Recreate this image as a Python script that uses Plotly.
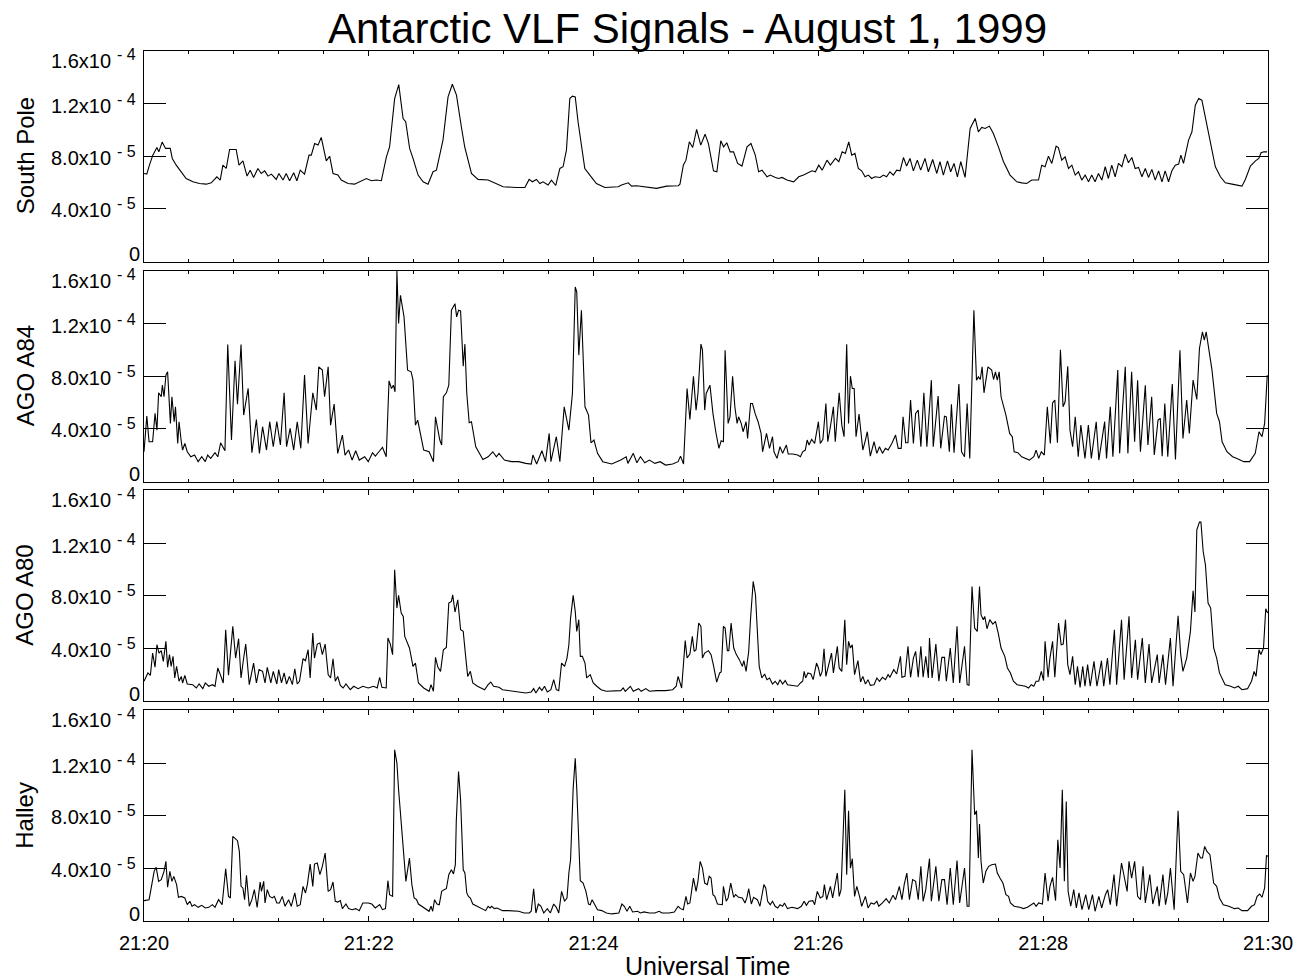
import plotly.graph_objects as go

# ---------------- data (values in units of 1e-5) ----------------
SCALE = 1e-5
x_tickvals = [0, 120, 240, 360, 480, 600]          # seconds after 21:20 UT
x_ticktext = ["21:20", "21:22", "21:24", "21:26", "21:28", "21:30"]
y_tickvals = [0, 4e-5, 8e-5, 1.2e-4, 1.6e-4]
y_mantissa = ["0", "4.0x10", "8.0x10", "1.2x10", "1.6x10"]
y_exponent = ["", "- 5", "- 5", "- 4", "- 4"]
panel_names = ["South Pole", "AGO A84", "AGO A80", "Halley"]

sp_t = [0,1.5,2.9,4.7,6.9,7.9,9.7,11.5,14.0,15.1,17.2,19.9,22.5,26.1,29.6,33.2,35.9,38.9,40.7,42.1,43.9,45.7,49.2,50.7,52.8,55.0,56.7,58.5,60.8,62.6,64.4,66.2,68.0,70.6,72.0,74.2,75.9,77.7,79.9,81.6,83.4,85.7,88.1,89.3,91.1,92.9,94.6,97.3,99.1,100.9,103.5,105.3,108.9,112.4,116.0,118.7,121.4,124.0,126.7,129.4,131.1,133.8,136.0,138.3,139.7,141.8,143.6,146.3,149.0,151.6,154.3,156.1,159.6,162.3,164.6,166.8,169.4,171.2,174.8,178.3,183.7,188.1,191.7,198.8,203.3,205.6,207.3,209.5,211.3,213.0,215.7,217.5,219.8,222.0,223.7,225.5,227.3,228.7,230.2,231.7,233.5,235.3,238.0,241.5,246.0,253.1,254.9,258.5,260.3,262.9,273.6,279.0,285.2,286.1,287.9,289.3,291.1,292.9,295.0,297.2,299.5,301.3,304.0,305.8,307.9,309.4,311.1,312.9,314.7,316.9,319.2,321.9,324.0,326.3,328.1,329.9,332.6,334.3,337.0,338.8,340.6,343.2,346.8,349.5,352.1,354.8,356.6,358.4,360.2,362.0,364.6,366.4,369.1,370.9,372.7,374.4,376.2,377.8,379.5,381.3,383.1,384.9,386.7,388.4,390.2,392.9,394.7,396.4,398.2,400.0,401.8,403.6,405.4,407.1,408.9,410.7,412.8,414.6,416.9,418.7,421.0,423.2,424.9,426.7,428.9,430.6,432.4,434.2,436.0,438.3,441.0,443.7,445.4,447.2,449.0,451.3,453.4,456.1,458.8,462.3,465.9,468.6,471.2,473.9,477.5,479.2,481.0,482.8,484.6,486.9,488.1,489.9,491.7,493.5,495.3,497.1,498.8,500.6,502.4,504.2,505.9,507.7,509.5,511.3,513.1,514.8,516.6,518.4,520.2,522.0,523.8,525.5,527.3,529.1,530.9,532.7,534.5,536.2,538.0,539.8,541.6,543.4,545.1,546.9,548.7,550.5,552.3,553.5,554.9,557.6,559.4,561.2,563.0,564.7,566.5,569.2,571.9,574.6,577.2,580.8,584.4,586.1,587.9,590.6,593.3,595.1,596.3,597.8,599.5]
sp_v = [6.69,6.64,7.32,8.08,8.66,8.33,9.07,8.59,8.59,7.83,7.32,6.82,6.31,6.06,5.93,5.88,5.98,6.44,6.19,7.32,7.07,8.51,8.51,7.32,7.65,6.49,6.94,6.39,7.07,6.69,6.89,6.49,6.64,6.24,6.69,6.19,6.69,6.14,6.74,6.14,6.94,6.64,8.08,8.08,8.96,8.84,9.42,7.65,8.0,6.69,6.57,6.19,5.93,5.88,6.14,6.31,6.14,6.19,6.14,7.95,8.71,12.37,13.43,10.86,10.61,8.59,7.83,6.57,6.06,5.88,6.82,6.94,9.22,12.5,13.46,12.63,10.23,8.71,6.69,6.24,6.19,5.88,5.68,5.63,5.63,6.24,6.06,6.24,5.93,6.06,5.81,6.19,5.78,7.07,7.2,8.46,12.37,12.55,12.5,10.61,8.71,7.07,6.57,5.93,5.63,5.68,5.81,5.98,5.73,5.76,5.56,5.73,5.76,5.88,7.32,7.7,9.09,8.66,10.03,8.84,9.67,8.96,6.89,6.82,9.17,8.71,9.02,8.33,8.33,7.45,7.25,8.71,8.96,8.08,6.82,6.94,6.44,6.57,6.39,6.31,6.39,6.19,6.06,6.44,6.57,6.74,6.89,6.82,7.32,6.94,7.7,7.32,7.83,7.58,8.33,8.21,9.09,8.08,8.21,7.07,6.89,6.44,6.57,6.31,6.44,6.39,6.57,6.44,6.82,6.57,6.94,6.89,7.9,7.25,7.83,6.89,7.7,6.94,7.83,6.82,7.75,6.69,7.58,6.57,7.65,6.82,7.45,6.44,7.58,6.39,10.1,10.86,9.85,10.18,10.1,10.28,9.72,8.71,7.58,6.57,6.06,5.98,5.93,6.19,6.19,7.32,7.2,8.0,7.45,8.76,8.66,7.7,7.95,7.07,7.32,6.57,6.82,6.19,6.57,6.06,6.57,6.06,6.69,6.19,7.2,6.31,7.32,6.44,7.45,7.2,8.16,7.5,7.9,7.07,7.15,6.44,7.07,6.39,7.0,6.19,6.89,6.06,6.89,6.06,6.89,7.32,7.4,8.08,7.45,9.22,9.85,11.87,12.37,12.25,10.98,8.96,7.2,6.44,5.98,5.88,5.81,5.73,6.24,7.25,7.65,7.83,8.26,8.33,8.33]

a84_t = [0,1.5,2.7,4.6,5.9,6.9,7.8,9.2,9.8,10.7,11.7,12.6,14.1,14.9,16.1,16.8,18.0,18.7,19.9,20.6,21.8,23.1,25.0,27.0,28.9,30.8,32.7,34.0,35.6,37.9,39.4,40.9,43.2,44.7,46.7,48.6,49.9,51.8,53.2,55.6,57.6,60.0,61.6,63.3,65.4,67.1,69.0,70.9,72.8,74.8,76.1,78.0,79.9,81.8,83.7,85.7,87.6,90.1,92.0,93.3,95.2,96.4,98.3,99.6,101.5,103.4,105.9,107.3,109.2,111.1,113.0,114.9,117.8,119.7,122.0,123.5,125.4,127.3,129.3,130.8,132.1,133.1,134.0,135.0,135.9,136.9,138.8,140.7,142.6,143.6,144.9,146.1,149.3,152.2,154.5,155.6,157.9,158.9,159.8,161.4,162.7,164.1,166.0,166.9,167.9,169.0,170.4,171.3,172.3,173.6,174.8,177.1,180.9,183.7,186.2,188.1,189.5,192.4,196.2,200.0,203.8,206.7,207.6,209.6,212.4,214.3,216.3,217.2,220.1,222.0,224.3,226.8,228.7,230.2,231.0,232.1,233.5,235.4,237.3,238.6,240.2,242.1,244.9,249.7,254.5,257.4,258.3,261.2,263.1,265.0,267.3,269.8,272.7,275.5,278.4,282.2,285.1,286.4,288.0,289.9,291.4,293.3,294.7,295.7,297.3,298.1,299.3,300.1,302.1,303.7,305.3,306.9,308.1,309.3,310.2,311.8,312.8,314.2,315.4,316.6,317.4,318.8,319.8,321.4,322.2,323.8,324.8,326.2,327.8,329.4,330.2,332.3,333.9,335.5,336.3,337.9,339.5,340.9,342.9,343.9,346.3,348.9,350.4,351.6,353.0,354.0,355.0,356.4,358.0,360.0,361.0,362.4,364.0,365.0,366.4,368.0,369.0,371.1,372.5,373.7,375.1,376.1,377.1,378.1,379.1,380.1,381.7,383.7,385.1,386.1,387.7,389.7,391.2,392.6,394.2,395.8,397.2,399.2,401.2,402.6,404.2,405.2,406.6,407.8,409.2,410.7,411.9,413.3,414.7,416.3,417.9,420.3,421.3,423.9,425.3,427.3,428.3,429.9,431.0,432.4,435.0,436.4,438.0,439.4,440.8,443.0,444.4,445.4,446.4,447.4,448.4,450.5,452.5,453.5,454.5,455.5,456.5,457.5,460.1,462.1,463.5,464.5,466.5,468.5,472.6,475.0,476.2,477.6,479.0,480.6,482.2,483.8,485.0,486.2,487.6,489.2,490.6,491.7,493.1,494.3,495.7,497.1,498.7,500.1,502.3,504.1,505.7,508.3,509.7,512.8,513.8,515.8,517.2,519.8,520.8,523.8,525.2,527.2,528.8,530.4,531.9,534.5,535.9,537.9,539.3,541.3,542.5,543.5,544.9,546.5,548.9,550.6,553.0,554.6,556.6,558.0,560.0,562.0,563.4,565.0,566.0,567.0,570.1,572.6,574.1,575.5,578.1,581.1,583.1,585.1,587.1,590.2,592.2,593.2,595.2,596.8,598.2,599.6]
a84_v = [2.27,4.97,3.03,3.03,5.18,3.91,6.74,6.44,7.32,6.44,8.08,8.33,4.42,6.44,4.55,5.68,2.9,4.55,3.03,2.4,2.9,2.27,1.89,2.02,1.52,1.89,1.52,2.02,1.77,2.2,1.89,2.95,2.35,10.4,3.16,9.17,5.88,10.4,5.05,7.07,2.2,4.72,2.15,4.17,2.4,4.55,2.65,4.55,2.78,6.74,2.65,4.04,2.4,4.55,2.53,8.08,2.9,6.74,5.43,8.71,8.46,6.44,8.71,4.29,5.88,2.15,3.54,2.02,2.4,1.64,2.35,1.64,1.89,1.52,2.2,1.94,2.27,2.6,1.89,7.65,7.07,7.32,6.82,16.0,12.0,14.14,12.5,8.46,8.33,7.7,4.29,4.67,2.4,2.27,1.52,4.92,3.16,2.78,6.44,6.74,7.32,13.0,13.5,12.5,13.0,12.95,8.76,10.43,6.69,4.47,4.55,2.65,1.69,1.89,2.27,1.89,2.15,1.64,1.52,1.52,1.39,1.34,2.02,1.34,2.35,1.52,3.66,1.52,3.41,1.52,5.68,3.91,6.69,14.77,14.39,9.6,13.0,5.68,5.05,2.95,3.16,2.15,1.52,1.34,1.64,1.89,1.39,2.15,1.44,1.89,1.44,1.64,1.39,1.52,1.26,1.34,1.52,1.94,1.34,7.07,4.72,8.0,5.43,6.69,10.43,10.0,5.43,6.69,7.32,5.18,3.71,2.53,3.1,3.03,9.97,4.42,4.92,8.0,5.68,4.42,4.92,4.42,3.79,4.55,3.28,5.93,5.93,5.18,4.55,3.66,2.27,3.66,2.53,3.41,2.27,1.77,2.65,2.15,2.78,2.1,2.1,2.02,1.89,2.27,2.4,3.16,2.78,3.21,2.9,4.55,2.9,3.21,5.93,3.03,4.17,5.68,3.03,6.74,4.29,3.41,10.43,4.42,8.0,7.07,7.07,3.41,5.13,2.4,3.16,3.79,1.94,3.03,2.15,2.65,2.15,2.53,2.4,2.9,3.54,2.53,2.53,4.92,2.95,2.95,6.19,2.9,5.18,5.43,2.65,6.74,2.65,7.7,2.65,6.49,2.53,4.97,4.92,2.27,5.88,2.2,7.4,2.27,1.89,5.93,1.77,13.0,7.7,7.95,7.75,8.71,6.74,8.71,8.46,7.75,8.33,7.7,8.33,6.44,5.05,3.66,3.41,2.27,2.2,1.89,1.64,1.89,2.4,1.77,2.27,2.02,5.68,2.9,5.98,6.19,2.95,10.0,5.68,6.06,8.76,3.91,2.65,4.92,1.89,4.29,1.77,4.29,1.77,4.55,1.64,4.55,1.77,5.68,1.89,8.46,2.15,8.71,2.15,8.33,3.03,7.7,2.27,7.32,2.78,6.44,2.02,4.67,4.8,1.94,5.93,1.89,7.4,1.69,9.97,3.28,6.19,3.66,7.7,6.24,10.1,11.36,10.73,11.36,8.46,5.18,4.55,3.03,2.27,1.89,1.77,1.64,1.52,1.52,1.89,2.15,3.79,3.41,4.42,8.08]

a80_t = [0,2.1,3.4,4.6,5.9,6.9,8.0,9.2,10.3,11.7,12.6,13.6,14.5,15.5,16.4,17.4,18.7,19.9,20.6,21.8,23.1,26.0,27.9,29.4,31.4,32.7,34.6,36.5,37.9,39.4,40.9,42.3,43.6,45.1,47.4,48.9,50.5,51.8,53.2,54.3,56.2,58.5,60.0,61.4,63.3,64.6,65.8,67.7,69.0,70.9,71.9,73.4,74.8,76.1,77.6,79.2,80.5,81.8,83.0,84.9,86.2,87.6,88.7,90.1,91.0,92.5,93.9,95.2,96.7,98.3,99.6,100.9,102.1,103.4,104.8,106.3,107.8,110.1,112.0,114.3,116.8,119.7,122.6,124.5,125.8,127.0,129.3,130.2,131.5,132.7,133.8,135.0,135.9,137.3,138.4,139.2,141.7,143.6,144.9,146.5,149.3,152.2,153.2,154.5,155.6,156.9,158.3,159.8,161.4,162.7,164.1,164.8,166.0,167.5,169.0,170.4,171.7,172.8,174.2,175.5,178.0,181.8,183.7,185.1,186.6,189.5,191.4,194.3,197.1,200.0,203.8,206.7,208.0,209.2,211.1,212.4,213.8,215.3,217.2,218.7,220.1,221.4,222.9,224.5,225.8,226.8,227.7,229.1,230.2,231.0,232.1,232.9,234.0,235.4,236.3,238.2,239.8,241.7,244.0,246.8,251.6,254.5,255.8,256.9,259.6,261.2,264.0,265.4,267.9,269.8,273.6,278.4,282.2,284.1,285.1,287.0,288.9,289.9,291.4,292.7,293.7,294.7,296.1,297.3,298.1,299.3,301.3,302.7,304.1,305.7,307.3,308.1,309.3,310.2,311.4,312.2,313.4,314.8,316.2,317.8,319.4,320.2,321.4,322.8,323.8,325.2,326.4,327.4,328.4,329.8,331.3,332.5,333.9,335.5,336.9,338.3,339.5,340.9,342.3,343.5,345.9,348.9,350.4,351.6,352.4,353.2,354.4,356.0,357.2,359.0,360.0,361.0,362.0,363.0,364.0,365.6,367.0,368.0,370.1,371.1,372.5,374.1,375.1,376.1,377.1,378.1,379.3,381.1,382.5,383.7,385.1,386.5,387.7,389.7,391.2,392.6,394.2,395.8,397.2,398.2,400.2,401.8,403.8,404.6,406.2,407.8,409.2,410.7,411.9,413.3,414.7,415.9,417.3,418.7,419.3,420.7,422.7,424.3,425.9,427.3,428.3,430.4,432.0,434.0,435.4,438.0,439.4,440.4,442.0,443.4,444.8,446.0,446.8,448.0,448.8,450.0,451.5,453.1,454.5,456.1,457.5,459.5,460.9,462.5,464.1,466.1,468.5,470.5,472.2,473.6,475.0,476.2,477.6,479.0,480.2,481.0,482.6,483.6,485.0,486.2,488.2,489.6,490.7,491.9,493.1,494.3,495.7,497.1,498.3,499.7,501.1,502.3,503.7,505.1,507.1,508.7,511.1,512.3,514.3,515.6,518.0,519.2,521.8,523.2,525.8,527.2,529.2,530.4,532.9,534.5,536.5,537.9,540.9,541.9,543.9,545.3,547.9,549.3,552.0,553.4,554.6,556.6,558.6,560.0,561.0,562.0,563.4,564.2,565.4,566.6,568.0,569.4,571.0,572.6,574.1,575.5,577.1,580.1,582.1,584.1,586.1,589.1,591.2,592.6,593.6,595.2,596.2,597.6,598.8,599.8]
a80_v = [1.52,2.15,1.97,3.66,2.58,4.29,3.66,3.84,3.03,4.55,2.58,3.54,2.65,3.41,1.77,2.65,1.52,1.89,1.39,1.97,1.31,1.26,1.01,1.31,0.96,1.39,1.14,1.26,1.14,2.53,1.97,1.39,5.43,1.97,5.68,3.28,4.75,1.77,3.28,4.34,1.26,2.9,1.39,2.4,2.27,1.39,2.58,1.39,2.27,1.31,2.4,1.39,2.15,1.31,1.89,1.26,2.47,1.31,1.52,3.23,3.08,3.91,1.77,5.18,3.28,4.34,4.42,3.54,4.34,2.02,1.77,3.23,1.52,1.89,1.21,1.01,1.31,0.88,1.14,0.96,1.14,1.01,1.14,1.01,1.82,1.06,1.01,4.8,4.34,3.54,9.97,7.07,8.03,6.69,6.44,4.92,4.04,2.65,2.9,1.39,1.01,0.76,1.26,0.76,3.33,2.58,2.27,3.91,4.09,7.45,7.58,8.08,6.77,7.7,5.43,5.3,3.41,1.89,2.27,1.39,1.14,0.88,1.26,1.46,1.14,1.06,0.88,0.81,0.76,0.71,0.63,0.71,0.96,0.63,1.06,0.81,1.14,0.71,0.88,1.64,0.88,0.81,2.9,2.65,3.28,4.29,6.31,8.03,6.82,5.3,6.19,3.41,3.41,2.9,1.77,2.02,1.39,1.14,0.88,0.76,0.76,0.81,1.01,0.76,1.14,0.76,0.96,0.76,0.96,0.76,0.81,0.81,0.88,1.14,1.89,1.01,4.6,3.28,3.59,4.92,3.79,3.91,5.93,5.68,3.28,3.66,3.84,3.54,2.65,1.46,2.15,2.22,5.68,5.56,3.84,3.84,5.93,4.04,3.54,3.16,2.65,3.08,2.27,3.79,6.31,9.09,8.08,5.56,2.65,1.77,2.07,1.64,1.77,1.31,1.52,1.26,1.64,1.31,1.57,1.26,1.21,1.14,1.39,1.52,2.27,1.77,2.15,2.07,1.64,2.9,2.53,1.89,2.27,3.99,1.89,2.83,3.66,2.15,4.17,2.53,2.27,6.19,2.78,4.55,4.04,4.29,2.02,3.08,1.46,1.89,1.31,1.64,1.21,1.26,1.77,1.52,1.82,1.64,2.02,1.82,2.4,2.07,3.41,1.82,1.89,4.17,1.82,3.28,3.79,1.82,4.17,1.82,3.41,1.77,4.8,1.77,4.34,1.52,3.33,3.33,1.52,4.04,1.39,5.68,1.39,4.17,1.26,1.21,8.71,5.56,5.3,8.71,6.57,6.19,6.44,5.5,6.19,5.86,6.06,5.1,4.04,3.41,2.53,2.15,1.52,1.26,1.21,1.14,1.01,1.26,1.14,1.52,1.52,2.27,1.57,4.55,1.82,3.28,4.55,1.82,5.93,4.29,4.34,6.19,2.78,2.02,3.41,1.26,2.65,1.06,2.65,1.14,2.78,1.14,3.03,1.14,3.08,1.14,3.28,1.26,5.43,1.26,6.19,1.64,6.44,1.77,4.67,1.64,4.8,1.39,4.34,1.39,3.54,1.39,3.54,1.26,4.8,1.14,6.49,3.54,2.27,3.28,5.3,8.38,6.77,13.0,13.59,13.59,11.36,10.35,7.45,7.07,4.04,3.28,2.15,1.77,1.26,1.14,1.01,1.14,0.88,0.96,1.52,2.27,1.89,3.91,3.54,4.04,7.02,6.69]

hal_t = [0,2.7,4.0,5.4,6.5,7.8,9.2,10.7,11.7,12.6,13.8,14.9,15.9,17.4,18.4,19.9,21.8,23.1,24.5,25.6,27.0,28.9,30.8,32.7,34.6,36.5,37.9,39.8,41.7,43.6,45.1,46.1,47.4,48.9,49.9,50.9,51.8,52.8,53.7,54.7,56.2,57.6,58.9,60.4,62.0,62.7,63.9,64.6,65.8,67.1,68.5,69.6,70.9,72.3,73.8,75.3,77.2,78.6,80.5,81.8,83.4,84.9,86.2,87.2,88.7,90.1,91.0,92.5,93.9,95.2,96.7,98.3,99.6,100.9,102.1,103.4,104.8,105.9,107.8,109.2,111.1,113.0,114.9,116.8,119.7,121.6,123.5,125.8,127.3,128.9,130.2,131.1,132.7,133.8,135.0,135.9,137.3,138.4,139.8,141.7,143.0,144.2,145.5,146.5,148.4,150.3,152.2,153.2,154.1,155.1,156.4,157.6,158.9,160.2,161.4,162.7,164.1,165.2,166.2,166.7,167.9,169.0,170.4,171.3,172.3,173.2,174.2,175.5,178.0,180.9,182.4,183.7,184.7,185.6,187.0,188.5,191.4,194.3,197.1,200.0,202.9,205.7,206.7,208.0,209.2,210.5,211.9,213.4,215.3,216.9,218.7,220.1,221.4,222.9,224.5,225.8,226.8,227.7,229.1,230.2,231.0,232.1,232.9,234.4,235.9,237.3,238.2,239.2,240.5,242.1,244.4,246.8,249.7,253.5,255.1,256.4,257.8,259.3,260.8,263.5,265.0,266.9,269.8,272.7,275.0,276.5,280.3,283.1,285.1,286.4,287.9,289.3,290.2,291.4,293.3,294.7,295.7,296.9,298.1,299.3,300.7,301.7,302.7,303.7,304.7,306.1,308.7,309.3,310.8,311.8,313.2,314.8,315.8,317.4,319.4,320.8,321.8,322.8,324.2,325.4,327.4,328.8,330.9,331.9,332.9,334.3,335.5,336.9,338.3,339.5,340.9,341.9,343.5,345.9,348.9,350.9,352.4,353.6,355.0,357.0,358.0,359.4,361.0,362.4,363.2,364.4,366.4,367.6,370.1,371.1,372.1,374.1,375.1,376.1,377.1,378.1,379.3,380.5,382.1,383.1,385.1,386.5,388.1,389.7,391.2,392.2,394.2,396.2,397.8,399.8,401.2,403.2,404.6,405.8,407.2,408.6,410.3,411.9,413.3,414.7,415.9,417.3,419.3,420.3,422.7,424.3,425.9,427.3,428.7,430.4,432.0,434.0,435.4,438.0,439.4,440.4,442.0,443.4,444.4,445.4,446.0,446.8,448.0,449.4,450.9,452.5,454.5,455.5,456.9,458.5,460.1,461.5,462.5,464.5,467.5,469.5,471.6,473.6,475.0,476.2,477.6,479.6,481.0,482.6,483.6,485.0,486.6,487.8,489.0,490.2,491.3,492.3,493.3,494.7,496.3,497.7,499.1,500.7,502.7,504.3,506.3,507.7,509.7,511.2,513.2,514.4,515.8,517.8,519.2,521.8,523.2,524.8,525.8,527.2,528.8,530.4,531.9,533.3,534.5,536.9,538.5,540.9,541.9,543.9,545.3,546.5,547.9,549.9,552.0,553.4,555.0,557.0,558.6,560.0,561.0,562.6,564.0,565.0,566.2,567.4,569.0,571.0,572.6,574.1,576.1,579.1,582.1,584.1,586.1,589.1,591.2,592.8,594.2,595.6,596.8,598.2,599.2,600.0]
hal_v = [1.57,1.64,2.65,3.79,4.09,3.03,3.16,3.79,4.55,2.58,3.79,3.03,3.41,2.78,1.82,1.89,1.77,1.26,1.52,1.14,1.26,1.06,1.21,1.01,1.06,1.26,1.06,1.64,1.26,3.99,1.89,1.77,6.44,6.19,6.11,5.3,2.65,2.53,1.64,3.48,1.14,1.64,2.4,1.06,2.98,2.27,3.03,1.39,2.4,1.89,1.77,1.89,1.39,1.39,1.89,1.14,1.64,1.14,2.15,1.14,1.26,2.65,2.15,2.78,4.34,2.65,4.34,4.42,3.54,4.17,5.18,2.27,2.4,2.98,1.52,1.46,1.57,0.96,1.31,0.96,0.88,0.96,0.81,1.39,1.39,1.31,1.01,1.26,0.88,0.96,3.08,2.02,1.89,13.0,12.0,9.97,7.45,5.3,3.03,4.8,2.78,1.77,1.64,1.31,1.14,0.96,0.76,1.14,0.76,1.64,1.31,1.26,2.27,2.4,2.47,3.54,3.91,3.59,4.29,7.58,11.36,9.22,3.91,3.66,2.15,1.89,1.77,1.31,1.14,0.96,0.81,1.14,1.01,1.14,0.96,1.01,0.81,0.81,0.76,0.76,0.63,0.63,0.76,2.47,0.63,1.31,1.14,0.63,0.96,0.63,1.31,1.06,0.63,2.27,1.52,1.77,3.66,4.67,10.1,12.37,10.1,5.3,3.08,2.9,2.27,1.31,1.26,1.64,1.26,0.88,0.81,0.63,0.56,0.63,1.31,1.14,0.76,1.14,0.71,0.76,0.63,0.71,0.63,0.63,0.76,0.63,0.63,0.71,1.14,0.96,0.88,1.89,1.31,1.39,3.28,2.27,3.03,4.55,4.04,2.9,2.78,3.41,3.28,2.02,1.89,1.31,1.26,2.65,1.52,1.77,2.9,1.82,2.02,1.82,1.77,1.39,1.77,2.47,1.31,1.82,1.64,1.14,2.78,2.53,1.52,1.26,1.52,1.14,1.01,1.26,1.14,1.39,0.96,1.06,0.96,1.14,1.52,1.21,1.52,1.57,1.26,2.27,1.77,1.89,2.78,1.64,2.65,1.77,3.66,1.89,2.4,9.97,3.54,8.38,4.04,4.75,1.89,2.65,1.82,1.14,1.89,1.01,1.39,1.31,1.52,1.14,1.39,1.72,1.39,1.97,1.64,2.65,1.64,2.78,3.66,1.64,3.16,3.03,1.64,4.17,1.52,2.4,4.75,1.52,4.17,1.52,3.16,3.16,1.26,4.04,1.26,4.6,1.39,4.04,1.14,1.14,13.0,8.08,8.38,4.8,7.37,4.55,2.9,3.79,4.17,4.29,4.34,3.66,3.28,2.9,2.02,1.89,1.39,1.14,1.06,0.96,1.06,1.26,1.39,1.14,1.39,1.31,3.66,1.52,2.65,3.33,1.57,6.19,4.04,9.97,3.03,9.09,2.27,1.14,2.4,1.01,2.15,0.88,2.02,0.88,2.02,0.76,1.89,1.01,2.02,2.4,1.26,3.54,1.14,4.42,3.28,2.27,4.55,3.28,4.55,1.89,1.64,4.17,1.39,3.54,1.31,2.65,1.14,3.54,1.26,2.15,4.04,0.88,8.38,3.79,3.54,1.39,3.66,3.03,3.41,5.18,4.8,4.8,5.68,5.3,5.05,2.9,2.65,1.77,1.26,1.14,0.96,1.01,0.81,0.81,1.14,1.26,1.89,2.07,1.82,2.53,5.0,4.92]

series = [(sp_t, sp_v), (a84_t, a84_v), (a80_t, a80_v), (hal_t, hal_v)]
for name, (tt, vv) in zip(panel_names, series):
    assert len(tt) == len(vv), (name, len(tt), len(vv))

# ---------------- layout geometry ----------------
W, H = 1305, 979
ML, MR, MT, MB = 144, 37, 50, 57
PW, PH = W - ML - MR, H - MT - MB
panel_tops = [50.7, 270.7, 490.3, 710.3]
panel_h = 211.0
FONT = "Liberation Sans, Arial, Helvetica, sans-serif"
# vertical nudges (px, + = up) of the y tick label mantissas; exponents sit 6 px higher
label_shift = [7.5, -1.5, -1.5, -2.5, -10]
NB = "\u00a0"

fig = go.Figure()
layout = dict(
    width=W, height=H, margin=dict(l=ML, r=MR, t=MT, b=MB),
    paper_bgcolor="white", plot_bgcolor="white", showlegend=False,
    font=dict(family=FONT, color="black", size=19),
)
annotations = []
for i, (name, (tt, vv)) in enumerate(zip(panel_names, series)):
    k = "" if i == 0 else str(i + 1)
    top = panel_tops[i]
    dom = [1 - (top + panel_h - MT) / PH, 1 - (top - MT) / PH]
    fig.add_trace(go.Scatter(x=tt, y=[v * SCALE for v in vv], mode="lines",
                             line=dict(color="black", width=1.1),
                             xaxis="x" + k, yaxis="y" + k, hoverinfo="skip"))
    last = (i == 3)
    layout["xaxis" + k] = dict(
        domain=[0, 1], anchor="y" + k, range=[0, 600],
        tickmode="array", tickvals=x_tickvals, ticktext=x_ticktext,
        showticklabels=last, ticks="inside", ticklen=5, tickwidth=1.2,
        tickcolor="black", showline=True, linecolor="black", linewidth=1.3,
        mirror="allticks", showgrid=False, zeroline=False,
        ticklabelstandoff=4,
        tickfont=dict(size=20, family=FONT, color="black"),
        minor=dict(dtick=24, tick0=0, ticks="inside", ticklen=3,
                   tickwidth=1, tickcolor="black", showgrid=False),
    )
    layout["yaxis" + k] = dict(
        domain=dom, anchor="x" + k, range=[0, 1.6e-4],
        tickmode="array", tickvals=y_tickvals, showticklabels=False,
        ticks="inside", ticklen=22, tickwidth=1.2, tickcolor="black",
        showline=True, linecolor="black", linewidth=1.3, mirror="allticks",
        showgrid=False, zeroline=False,
    )
    for tv, m, e, sh in zip(y_tickvals, y_mantissa, y_exponent, label_shift):
        xr = 141 if not e else 112
        annotations.append(dict(
            text=m, xref="paper", yref="y" + k, x=(xr - ML) / PW, y=tv,
            xanchor="right", yanchor="middle", yshift=sh, showarrow=False,
            borderpad=0, font=dict(size=20, family=FONT, color="black")))
        if e:
            annotations.append(dict(
                text=e.replace(" ", NB), xref="paper", yref="y" + k,
                x=(116 - ML) / PW, y=tv, xanchor="left", yanchor="middle",
                yshift=sh + 6.5, showarrow=False, borderpad=0,
                font=dict(size=16, family=FONT, color="black")))
    annotations.append(dict(
        text=name, xref="paper", yref="paper",
        x=(25 - ML) / PW, y=(dom[0] + dom[1]) / 2, xanchor="center",
        yanchor="middle", textangle=-90, showarrow=False,
        font=dict(size=24, family=FONT, color="black")))

annotations.append(dict(
    text="Antarctic VLF Signals - August 1, 1999", xref="paper", yref="paper",
    x=(687 - ML) / PW, y=1 - (28 - MT) / PH, xanchor="center", yanchor="middle",
    showarrow=False, font=dict(size=42, family=FONT, color="black")))
annotations.append(dict(
    text="Universal Time", xref="paper", yref="paper",
    x=(707 - ML) / PW, y=1 - (966 - MT) / PH, xanchor="center",
    yanchor="middle", showarrow=False,
    font=dict(size=25, family=FONT, color="black")))
layout["annotations"] = annotations
fig.update_layout(**layout)
fig.write_html("out.html")
